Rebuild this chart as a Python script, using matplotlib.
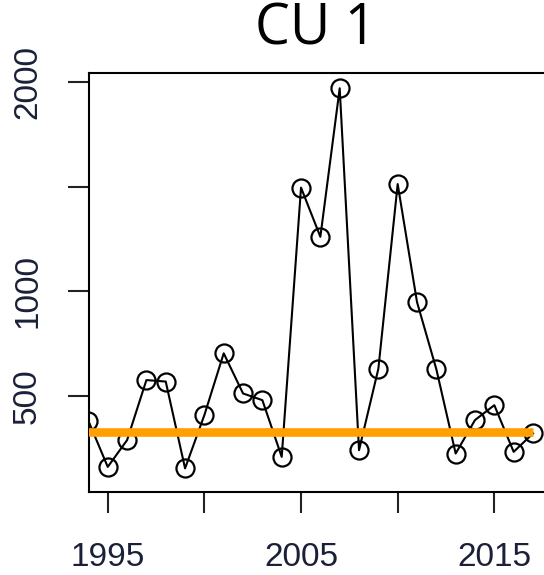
import matplotlib
matplotlib.use('Agg')
import matplotlib.pyplot as plt

# escapement series
years = [1994, 1995, 1996, 1997, 1998, 1999, 2000, 2001, 2002, 2003, 2004, 2005,
         2006, 2007, 2008, 2009, 2010, 2011, 2012, 2013, 2014, 2015, 2016, 2017]
counts = [380, 160, 288, 575, 568, 153, 408, 703, 511, 479, 208, 1495,
          1260, 1970, 240, 629, 1512, 948, 627, 224, 384, 455, 232, 320]
benchmark = 325
bench_years = [1994, 2017]

xticks = [1995, 2000, 2005, 2010, 2015]
xlabels = ['1995', '', '2005', '', '2015']
yticks = [500, 1000, 1500, 2000]
ylabels = ['500', '1000', '', '2000']

txt = '#1a2038'

fig = plt.figure(figsize=(5.44, 5.75), dpi=100)
ax = fig.add_axes([89/544, 83/575, 455/544, 419/575])

ax.plot(years, counts, color='black', lw=1.5, marker='o', ms=13,
        mfc='none', mec='black', mew=1.6, zorder=3)
ax.plot(bench_years, [benchmark, benchmark], color='#ffa000', lw=6.2,
        solid_capstyle='butt', zorder=5)

ax.set_xlim(1994.03, 2017.57)
ax.set_ylim(40, 2043)
ax.set_xticks(xticks)
ax.set_xticklabels(xlabels)
ax.set_yticks(yticks)
ax.set_yticklabels(ylabels, rotation=90, va='center')

for s in ['left', 'top', 'bottom']:
    ax.spines[s].set_linewidth(1.5)
ax.spines['right'].set_visible(False)

ax.tick_params(length=15, width=1.5, color='#222222', labelcolor=txt,
               labelsize=24)
ax.tick_params(axis='y', pad=18)
ax.tick_params(axis='x', pad=21)
for lab in ax.get_xticklabels() + ax.get_yticklabels():
    lab.set_family('Liberation Sans')

fig.text(316/544, 1 - 30/575, 'CU 1', ha='center', va='center',
         fontsize=40, family='Open Sans', color='black')

plt.savefig('out.png', dpi=100)
